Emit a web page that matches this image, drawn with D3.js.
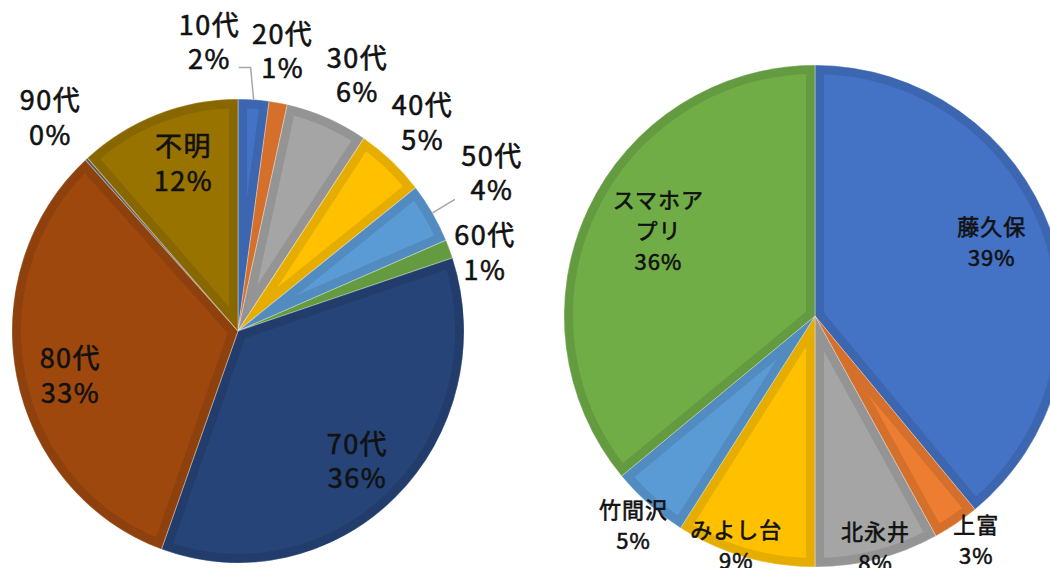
<!DOCTYPE html>
<html lang="ja">
<head>
    <meta charset="UTF-8">
    <title>年代別・地区別 割合</title>
    <script src="https://cdn.jsdelivr.net/npm/d3@7"></script>
    <style>
        body { margin: 0; background: #fff; }
        .lbl {
            font-family: "Noto Sans CJK JP", "Noto Sans", sans-serif;
            font-weight: 400;
            fill: #111;
            stroke: #111;
            stroke-width: 0.6px;
        }
    </style>
</head>
<body>
    <svg width="1050" height="568" id="chart"></svg>
    <script>
        // 年代別
        const ageNames = ["10代", "20代", "30代", "40代", "50代", "60代", "70代", "80代", "90代", "不明"];
        const ageValues = [2.2, 1.3, 5.9, 5.0, 4.2, 1.3, 35.6, 32.7, 0.2, 11.6];
        const ageColors = ["#4472C4", "#ED7D31", "#A5A5A5", "#FFC000", "#5B9BD5", "#70AD47",
                           "#264478", "#9E480E", "#636363", "#997300"];

        // 地区別
        const placeNames = ["藤久保", "上富", "北永井", "みよし台", "竹間沢", "スマホアプリ"];
        const placeValues = [39, 3, 8, 9, 5, 36];
        const placeColors = ["#4472C4", "#ED7D31", "#A5A5A5", "#FFC000", "#5B9BD5", "#70AD47"];

        // label layout: [radius factor, angle nudge in degrees]
        const ageLabelLayout = [[1.25, -9.9], [1.22, -1.1], [1.22, 2.3], [1.21, -0.6], [1.31, -0.6],
                                [1.14, 3.6], [0.77, 1.3], [0.77, -3.3], [1.24, -0.1], [0.76, 2.1]];
        const placeLabelLayout = [[0.76, -2.7], [1.10, -1.4], [0.955, -0.1], [0.97, 2.8], [1.107, -0.5], [0.71, 3.0]];

        const svg = d3.select("#chart");
        const toRad = Math.PI / 180;

        function drawPie(opt) {
            const { id, names, values, colors, layout, cx, cy, rx, ry, fontSize, lineH, spacing, inset } = opt;
            const total = d3.sum(values);
            const arcs = d3.pie().sort(null).value(d => d)(values);
            const arc = d3.arc().innerRadius(0).outerRadius(rx);

            const g = svg.append("g")
                .attr("transform", `translate(${cx},${cy}) scale(1,${ry / rx})`);

            const defs = svg.append("defs");
            defs.selectAll("clipPath")
                .data(arcs)
                .enter().append("clipPath")
                .attr("id", (d, i) => `${id}-clip-${i}`)
                .append("path")
                .attr("d", arc);

            const slices = g.selectAll(".slice")
                .data(arcs)
                .enter().append("g")
                .attr("class", "slice");

            // bevel-like inset border: darker stroke clipped to the slice
            slices.append("path")
                .attr("d", arc)
                .attr("fill", (d, i) => colors[i])
                .attr("stroke", (d, i) => d3.color(colors[i]).darker(0.3))
                .attr("stroke-width", inset * 2)
                .attr("clip-path", (d, i) => `url(#${id}-clip-${i})`);

            slices.append("path")
                .attr("d", arc)
                .attr("fill", "none")
                .attr("stroke", "rgba(255,255,255,0.35)")
                .attr("stroke-width", 1);

            const point = (angle, k) => [cx + k * rx * Math.sin(angle), cy - k * ry * Math.cos(angle)];

            const labels = arcs.map((d, i) => {
                const mid = (d.startAngle + d.endAngle) / 2;
                const [k, nudge] = layout[i];
                const [x, y] = point(mid + nudge * toRad, k);
                const name = names[i];
                const first = name.length > 4 ? [name.slice(0, 4), name.slice(4)] : [name];
                const pct = Math.round(values[i] / total * 100) + "%";
                return { x, y, mid, k, lines: first.concat([pct]) };
            });

            const lbl = svg.append("g");
            labels.forEach(l => {
                const t = lbl.append("text")
                    .attr("class", "lbl")
                    .attr("text-anchor", "middle")
                    .style("font-size", fontSize + "px")
                    .style("letter-spacing", spacing + "px");
                const n = l.lines.length;
                l.lines.forEach((s, j) => {
                    t.append("tspan")
                        .attr("x", l.x + spacing / 2)
                        .attr("y", l.y + (j - (n - 1) / 2) * lineH + fontSize * 0.35)
                        .text(s);
                });
            });
            return { labels, point };
        }

        const left = drawPie({
            id: "age", names: ageNames, values: ageValues, colors: ageColors, layout: ageLabelLayout,
            cx: 238, cy: 331, rx: 226, ry: 232, fontSize: 27, lineH: 34.5, spacing: 1.5, inset: 9
        });

        drawPie({
            id: "place", names: placeNames, values: placeValues, colors: placeColors, layout: placeLabelLayout,
            cx: 815, cy: 316, rx: 251, ry: 251, fontSize: 22, lineH: 31, spacing: 1, inset: 9
        });

        // leader lines (10代, 50代)
        const lead = svg.append("g")
            .attr("fill", "none")
            .attr("stroke", "#a6a6a6")
            .attr("stroke-width", 1.5);

        const l10 = left.labels[0];
        const e10 = left.point(l10.mid, 1.0);
        lead.append("path")
            .attr("d", d3.line()([e10, [e10[0] - 3, l10.y + 25], [l10.x + 30, l10.y + 25]]));

        const l50 = left.labels[4];
        lead.append("path")
            .attr("d", d3.line()([left.point(l50.mid, 1.0), left.point(l50.mid, 1.115)]));
    </script>
</body>
</html>
